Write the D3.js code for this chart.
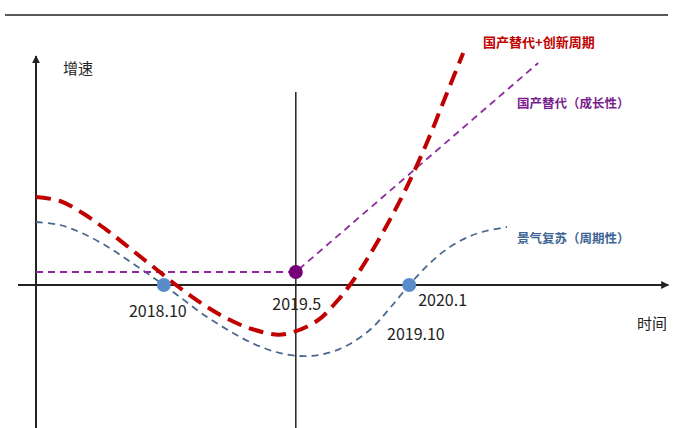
<!DOCTYPE html>
<head>
  <meta charset="utf-8">
  <script src="https://d3js.org/d3.v7.min.js"></script>
  <style>
    body { margin: 0; background: #fff; }
    text { font-family: "Noto Sans CJK SC", "Noto Sans", sans-serif; }
  </style>
</head>
<body>
  <script>
    var width = 673;
    var height = 428;

    // schematic curves, x = time (arbitrary units), y = growth
    var cycleX = [0, 4, 8, 12, 16, 20, 24, 28, 32, 36, 40, 44, 48, 52, 56, 59, 62.2, 65.5, 68.5, 72, 75, 78.5];
    var cycleY = [6.3, 6.0, 5.1, 3.8, 2.2, 0.55, -1.2, -3.0, -4.5, -5.8, -6.7, -7.1, -6.9, -6.0, -4.3, -2.3, 0, 2.1, 3.6, 4.8, 5.4, 5.8];

    var innovX = [0, 4, 8, 12, 16, 20, 24, 28, 32, 36, 41, 46.8, 50.2, 52.8, 55.2, 58.5, 61.8, 65.2, 68.5, 71.2];
    var innovY = [8.8, 8.4, 7.1, 5.4, 3.5, 1.6, -0.3, -2.0, -3.4, -4.4, -4.95, -3.6, -1.6, 0.4, 2.6, 6.0, 9.8, 14.3, 19.2, 23.2];

    var growthX = [0, 43.3, 83.7];
    var growthY = [1.3, 1.3, 22.2];

    var dotX = [21.3, 43.3, 62.2];
    var dotY = [0, 1.3, 0];
    var dotKind = ["cycle", "growth", "cycle"];

    var dateLabels = ["2018.10", "2019.5", "2020.1", "2019.10"];

    var x = d3.scaleLinear().domain([0, 100]).range([36, 636]);
    var y = d3.scaleLinear().domain([-10, 10]).range([385, 185]);

    var svg = d3.select("body").append("svg")
        .attr("width", width)
        .attr("height", height);

    var defs = svg.append("defs");
    defs.append("marker")
        .attr("id", "arrow")
        .attr("viewBox", "0 0 10 10")
        .attr("refX", 9).attr("refY", 5)
        .attr("markerWidth", 4).attr("markerHeight", 4)
        .attr("orient", "auto")
      .append("path")
        .attr("d", "M0,0L10,5L0,10Z")
        .attr("fill", "#222");

    // top rule
    svg.append("line")
        .attr("x1", 5).attr("x2", 668)
        .attr("y1", 15).attr("y2", 15)
        .attr("stroke", "#222").attr("stroke-width", 1.5);

    // axes
    svg.append("line")
        .attr("x1", x(-3)).attr("x2", x(105.4))
        .attr("y1", y(0)).attr("y2", y(0))
        .attr("stroke", "#222").attr("stroke-width", 2)
        .attr("marker-end", "url(#arrow)");
    svg.append("line")
        .attr("x1", x(0)).attr("x2", x(0))
        .attr("y1", y(-14.5)).attr("y2", y(22.9))
        .attr("stroke", "#222").attr("stroke-width", 2)
        .attr("marker-end", "url(#arrow)");
    svg.append("line")
        .attr("x1", x(43.3)).attr("x2", x(43.3))
        .attr("y1", y(19.3)).attr("y2", y(-14.5))
        .attr("stroke", "#222").attr("stroke-width", 1.5);

    var smooth = d3.line()
        .x(function (d) { return x(d[0]); })
        .y(function (d) { return y(d[1]); })
        .curve(d3.curveCatmullRom);
    var straight = d3.line()
        .x(function (d) { return x(d[0]); })
        .y(function (d) { return y(d[1]); });

    svg.append("path")
        .attr("d", smooth(d3.zip(cycleX, cycleY)))
        .attr("fill", "none")
        .attr("stroke", "#4a6890").attr("stroke-width", 1.8)
        .attr("stroke-dasharray", "7,5");

    svg.append("path")
        .attr("d", straight(d3.zip(growthX, growthY)))
        .attr("fill", "none")
        .attr("stroke", "#8e2a9e").attr("stroke-width", 1.8)
        .attr("stroke-dasharray", "7,5");

    svg.append("path")
        .attr("d", smooth(d3.zip(innovX, innovY)))
        .attr("fill", "none")
        .attr("stroke", "#c00000").attr("stroke-width", 4)
        .attr("stroke-dasharray", "15,8");

    svg.selectAll("circle.dot")
      .data(d3.zip(dotX, dotY, dotKind))
      .enter().append("circle")
        .attr("class", "dot")
        .attr("cx", function (d) { return x(d[0]); })
        .attr("cy", function (d) { return y(d[1]); })
        .attr("r", 7)
        .attr("fill", function (d) { return d[2] == "growth" ? "#760079" : "#5a8ccb"; });

    // labels
    svg.append("text").attr("x", 63).attr("y", 74)
        .attr("font-size", 15).attr("fill", "#222").text("增速");
    svg.append("text").attr("x", 637).attr("y", 329)
        .attr("font-size", 15).attr("fill", "#222").text("时间");

    svg.append("text").attr("x", x(dotX[0]) - 6).attr("y", 317)
        .attr("text-anchor", "middle")
        .attr("font-size", 16).attr("fill", "#222").text(dateLabels[0]);
    svg.append("text").attr("x", x(dotX[1]) + 1).attr("y", 310)
        .attr("text-anchor", "middle")
        .attr("font-size", 16).attr("fill", "#222").text(dateLabels[1]);
    svg.append("text").attr("x", x(dotX[2]) + 9).attr("y", 306)
        .attr("font-size", 16).attr("fill", "#222").text(dateLabels[2]);
    svg.append("text").attr("x", 387).attr("y", 340)
        .attr("font-size", 16).attr("fill", "#222").text(dateLabels[3]);

    svg.append("text").attr("x", 483).attr("y", 47)
        .attr("font-size", 13).attr("font-weight", "bold")
        .attr("fill", "#c00000").text("国产替代+创新周期");
    svg.append("text").attr("x", 517).attr("y", 108)
        .attr("font-size", 12.5).attr("font-weight", "bold")
        .attr("fill", "#7a1f8e").text("国产替代（成长性）");
    svg.append("text").attr("x", 517).attr("y", 243)
        .attr("font-size", 12.5).attr("font-weight", "bold")
        .attr("fill", "#3d6494").text("景气复苏（周期性）");
  </script>
</body>
